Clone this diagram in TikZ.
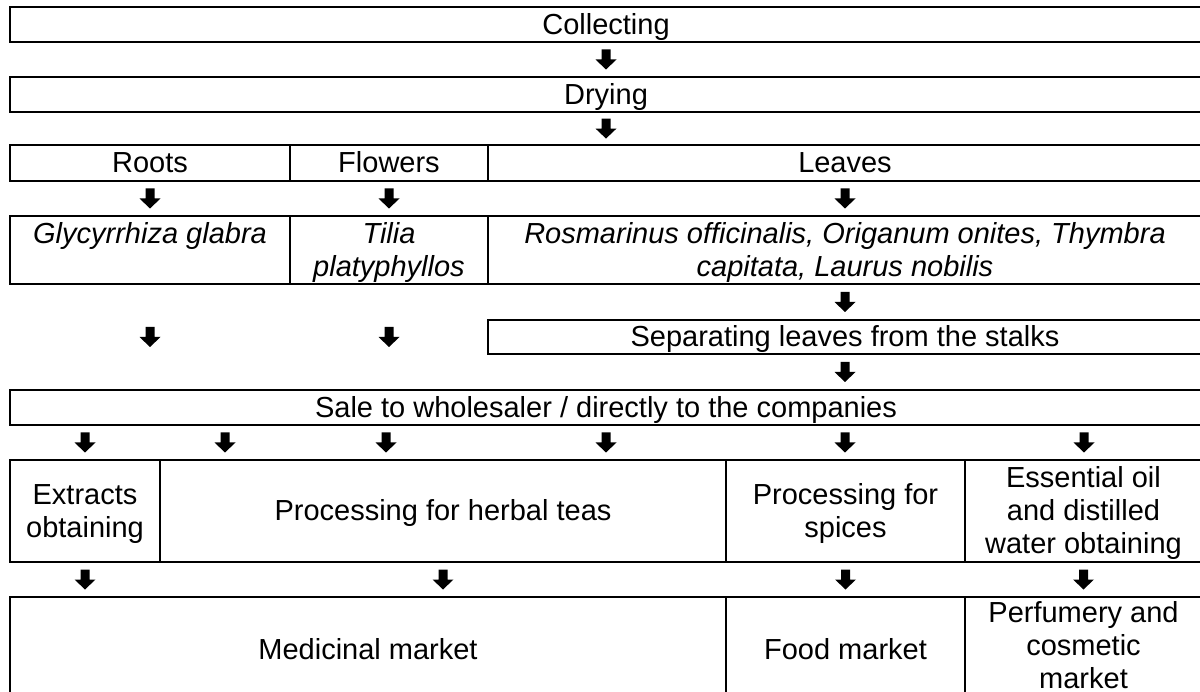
\documentclass[tikz,border=0pt]{standalone}
\usepackage{fontspec}
\setmainfont{Liberation Sans}
\usetikzlibrary{calc}
% line strut: ascent 26pt, descent 6pt
\newcommand\ls{\rule[-6pt]{0pt}{32pt}}
\tikzset{
  cell/.style={draw, line width=1.7pt, inner sep=0pt, align=center,
    font=\fontsize{29}{33}\selectfont},
  headcell/.style={cell, line width=2pt},
  spcell/.style={cell, font=\fontsize{29}{33}\selectfont\itshape},
  celltext/.style={inner sep=0pt, align=center, font=\fontsize{29}{33}\selectfont},
  dn/.pic={\fill[black] (-4.5,-10) -- (4.5,-10) -- (4.5,0) -- (10.5,0)
    -- (0,10) -- (-10.5,0) -- (-4.5,0) -- cycle;}
}
\begin{document}
\begin{tikzpicture}[x=1pt,y=-1pt]
\path[use as bounding box, clip] (0,0) rectangle (1200,692);
\fill[white] (0,0) rectangle (1200,692);

% stages
\node[headcell, minimum width=1192pt, minimum height=35pt] (collect) at (606,24.5) {\ls Collecting};
\node[headcell, minimum width=1192pt, minimum height=35pt] (dry) at (606,94.5) {\ls Drying};

% plant parts
\node[cell, minimum width=280pt, minimum height=36pt] (roots) at (150,163) {\ls Roots};
\node[cell, minimum width=198pt, minimum height=36pt] (flowers) at (389,163) {\ls Flowers};
\node[cell, minimum width=714pt, minimum height=36pt] (leaves) at (845,163) {\ls Leaves};

% species
\node[spcell, minimum width=280pt, minimum height=68pt] (glyc) at (150,250) {\ls Glycyrrhiza glabra\\\ls};
\node[spcell, minimum width=198pt, minimum height=68pt] (tilia) at (389,250) {\ls Tilia\\\ls platyphyllos};
\node[spcell, minimum width=714pt, minimum height=68pt] (rosm) at (845,250)
  {\ls Rosmarinus officinalis, Origanum onites, Thymbra\\\ls capitata, Laurus nobilis};

\node[cell, minimum width=714pt, minimum height=34pt] (sep) at (845,337) {\ls Separating leaves from the stalks};
\node[cell, minimum width=1192pt, minimum height=35pt] (sale) at (606,407.5) {\ls Sale to wholesaler / directly to the companies};

% processing
\node[cell, minimum width=150pt, minimum height=102pt] (extr) at (85,511) {\ls Extracts\\\ls obtaining};
\node[cell, minimum width=566pt, minimum height=102pt] (herb) at (443,511) {\ls Processing for herbal teas};
\node[cell, minimum width=239pt, minimum height=102pt] (spice) at (845.5,511) {\ls Processing for\\\ls spices};
\node[cell, minimum width=237pt, minimum height=102pt] (oil) at (1083.5,511) {\ls Essential oil\\\ls and distilled\\\ls water obtaining};

% markets
\node[cell, minimum width=716pt, minimum height=104pt] (med) at (368,649) {\ls Medicinal market};
\node[cell, minimum width=239pt, minimum height=104pt] (food) at (845.5,649) {\ls Food market};
\node[cell, minimum width=237pt, minimum height=104pt] (perf) at (1083.5,649) {};
\node[celltext, anchor=north] (perft) at ($(perf.north)+(0,5)$) {Perfumery and\\cosmetic\\market};

% block arrows
\pic at ($(collect.south)!.5!(dry.north)$) {dn};
\pic at ($(dry.south)!.5!(dry.south |- leaves.north)$) {dn};
\pic at ($(roots.south)!.5!(glyc.north)$) {dn};
\pic at ($(flowers.south)!.5!(tilia.north)$) {dn};
\pic at ($(leaves.south)!.5!(rosm.north)$) {dn};
\pic at ($(glyc.south)!.5!(glyc.south |- sale.north)$) {dn};
\pic at ($(tilia.south)!.5!(tilia.south |- sale.north)$) {dn};
\pic at ($(rosm.south)!.5!(sep.north)$) {dn};
\pic at ($(sep.south)!.5!(sep.south |- sale.north)$) {dn};
\coordinate (r7) at ($(sale.south)!.5!(sale.south |- herb.north)$);
\foreach \x in {85,225,386,606,845,1084}
  \pic at ($(r7)+({\x-606},0)$) {dn};
\pic at ($(extr.south)!.5!(extr.south |- med.north)$) {dn};
\pic at ($(herb.south)!.5!(herb.south |- med.north)$) {dn};
\pic at ($(spice.south)!.5!(food.north)$) {dn};
\pic at ($(oil.south)!.5!(perf.north)$) {dn};
\end{tikzpicture}
\end{document}
